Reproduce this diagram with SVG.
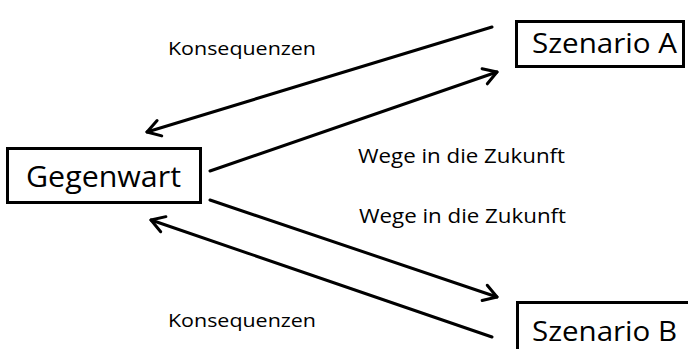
<svg xmlns="http://www.w3.org/2000/svg" width="688" height="349" viewBox="0 0 688 349">
<defs>
<style>
.box{fill:#fff;stroke:#000;stroke-width:3}
.lbl{font-family:"Open Sans","Noto Sans",sans-serif;fill:#000}
.edge{stroke:#000;stroke-width:3;fill:none;stroke-linecap:round}
</style>
<marker id="arr" viewBox="0 0 20 20" refX="17" refY="10" markerWidth="20" markerHeight="20" markerUnits="userSpaceOnUse" orient="auto">
<polyline points="4,2 17,10 4,18" fill="none" stroke="#000" stroke-width="3" stroke-linecap="round" stroke-linejoin="round"/>
</marker>
</defs>
<rect width="688" height="349" fill="#fff"/>
<g id="connectors">
<line class="edge" x1="492" y1="27" x2="147" y2="132" marker-end="url(#arr)"/>
<line class="edge" x1="210" y1="171" x2="497" y2="72" marker-end="url(#arr)"/>
<line class="edge" x1="210" y1="200" x2="497" y2="297" marker-end="url(#arr)"/>
<line class="edge" x1="492" y1="337" x2="151" y2="220" marker-end="url(#arr)"/>
<text class="lbl" x="168" y="55" font-size="19" textLength="148" lengthAdjust="spacingAndGlyphs">Konsequenzen</text>
<text class="lbl" x="358" y="163" font-size="20" textLength="207" lengthAdjust="spacingAndGlyphs">Wege in die Zukunft</text>
<text class="lbl" x="359" y="223" font-size="20" textLength="207" lengthAdjust="spacingAndGlyphs">Wege in die Zukunft</text>
<text class="lbl" x="168" y="327" font-size="19" textLength="148" lengthAdjust="spacingAndGlyphs">Konsequenzen</text>
</g>
<g id="gegenwart">
<rect class="box" x="7.5" y="148.5" width="193" height="54"/>
<text class="lbl" x="26" y="187" font-size="30" textLength="155" lengthAdjust="spacingAndGlyphs">Gegenwart</text>
</g>
<g id="szenario-a">
<rect class="box" x="516.5" y="21.5" width="167" height="45"/>
<text class="lbl" x="532" y="53" font-size="27" textLength="145" lengthAdjust="spacingAndGlyphs">Szenario A</text>
</g>
<g id="szenario-b">
<rect class="box" x="517.5" y="302.5" width="180" height="60"/>
<text class="lbl" x="532" y="341" font-size="27" textLength="145" lengthAdjust="spacingAndGlyphs">Szenario B</text>
</g>
</svg>
